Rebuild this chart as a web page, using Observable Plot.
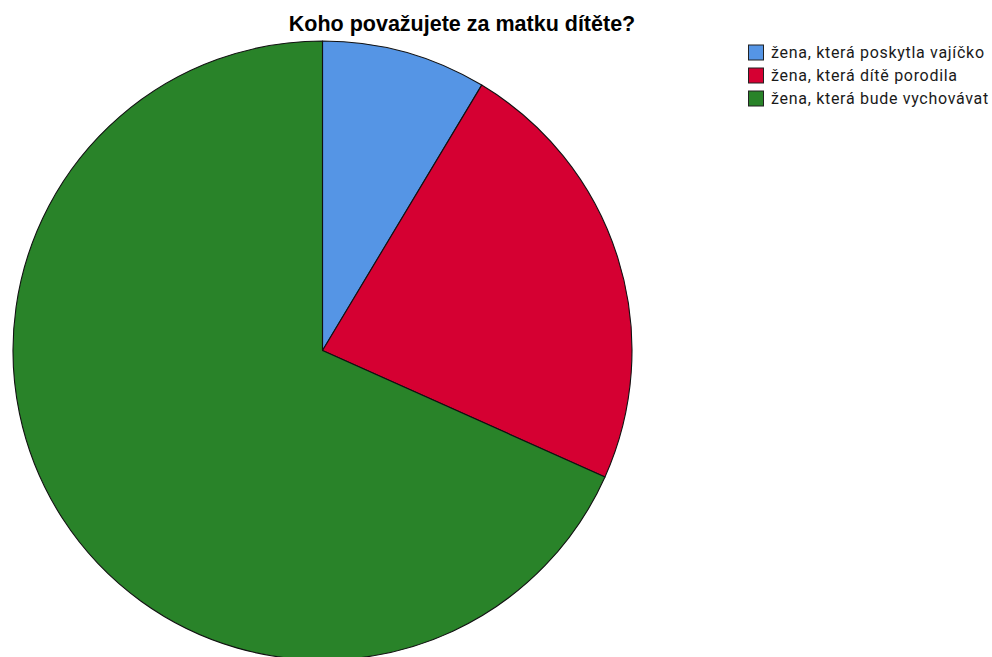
<!DOCTYPE html>
<html>
<head>
<meta charset="utf-8">
<script src="https://cdn.jsdelivr.net/npm/d3@7"></script>
<script src="https://cdn.jsdelivr.net/npm/@observablehq/plot@0.6"></script>
<style>
  html, body { margin: 0; padding: 0; background: #fff; }
</style>
</head>
<body>
<div id="chart"></div>
<script>
const title = "Koho považujete za matku dítěte?";
const categories = ["žena, která poskytla vajíčko", "žena, která dítě porodila", "žena, která bude vychovávat"];
const percents = [8.6, 23.1, 68.3];
const colors = ["#5595E5", "#D50032", "#298329"];

const data = categories.map((c, i) => ({category: c, value: percents[i]}));

function pieMark(cx, cy, r) {
  return (index, scales, values, dimensions, context) => {
    const g = d3.create("svg:g").attr("transform", `translate(${cx},${cy})`);
    const arcs = d3.pie().sort(null).value(d => d.value)(data);
    const arc = d3.arc().innerRadius(0).outerRadius(r);
    g.selectAll("path").data(arcs).join("path")
      .attr("d", arc)
      .attr("fill", d => scales.color(d.data.category))
      .attr("stroke", "#111")
      .attr("stroke-width", 1.1)
      .attr("stroke-linejoin", "round");
    return g.node();
  };
}

function legendMark(x, y, step) {
  return (index, scales) => {
    const g = d3.create("svg:g").attr("transform", `translate(${x},${y})`);
    const rows = g.selectAll("g").data(categories).join("g")
      .attr("transform", (d, i) => `translate(0,${i * step})`);
    rows.append("rect")
      .attr("x", 0.5).attr("y", -7.5).attr("width", 15).attr("height", 15)
      .attr("fill", d => scales.color(d))
      .attr("stroke", "#222").attr("stroke-width", 1);
    rows.append("text")
      .attr("x", 23).attr("y", 0).attr("dy", "0.36em")
      .attr("text-anchor", "start")
      .attr("font-family", "Roboto, sans-serif")
      .attr("font-size", 16)
      .attr("letter-spacing", "0.7px")
      .attr("fill", "#1a1a1a")
      .text(d => d);
    return g.node();
  };
}

const chart = Plot.plot({
  width: 992,
  height: 657,
  margin: 0,
  style: {background: "#fff", overflow: "visible"},
  color: {type: "ordinal", domain: categories, range: colors},
  marks: [
    pieMark(322.5, 350.5, 309.5),
    legendMark(748, 52.5, 23),
    Plot.text([title], {
      text: d => d,
      frameAnchor: "top",
      dx: -34.5, dy: 15.5,
      fontSize: 21.5,
      fontWeight: "bold",
      fontFamily: "'Liberation Sans', Arial, sans-serif",
      fill: "#000"
    })
  ]
});
document.getElementById("chart").append(chart);
</script>
</body>
</html>
